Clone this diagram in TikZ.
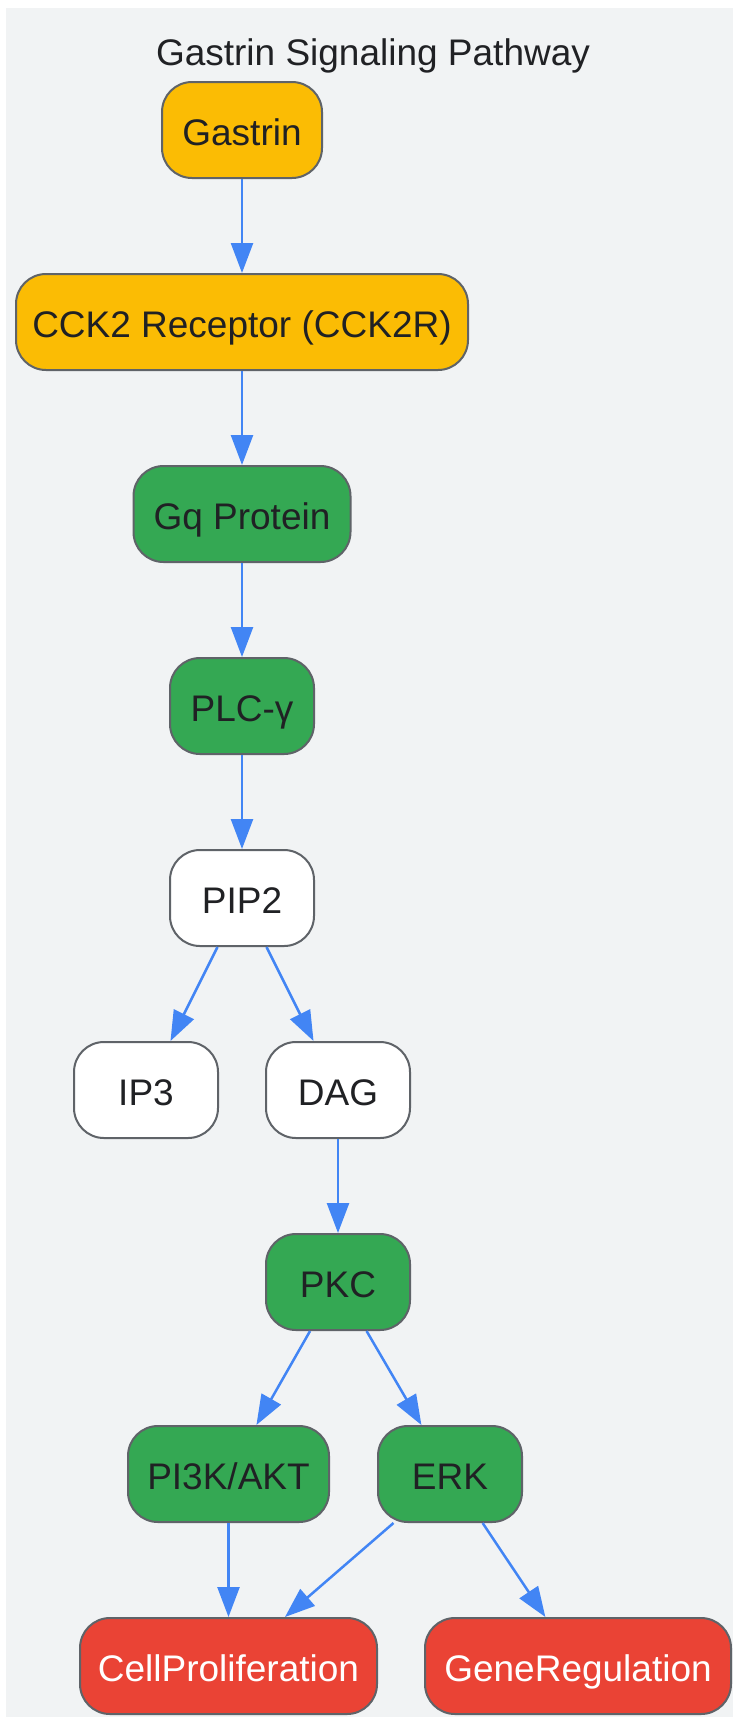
\documentclass[tikz,border=0pt]{standalone}
\usepackage{fontspec}
\setmainfont{Liberation Sans}
\usetikzlibrary{arrows.meta}
\definecolor{bgc}{HTML}{F1F3F4}
\definecolor{ylw}{HTML}{FBBC04}
\definecolor{grn}{HTML}{34A853}
\definecolor{rdc}{HTML}{EA4335}
\definecolor{bord}{HTML}{5F6368}
\definecolor{txt}{HTML}{202124}
\definecolor{edg}{HTML}{4285F4}
\tikzset{
  box/.style={draw=bord, line width=2pt, rounded corners=30pt, minimum height=96pt,
    inner sep=0pt, text height=30pt, text depth=0pt, text=txt,
    font=\fontsize{37}{44}\selectfont},
  ybox/.style={box, fill=ylw},
  gbox/.style={box, fill=grn},
  wbox/.style={box, fill=white},
  rbox/.style={box, fill=rdc, text=white},
  conn/.style={draw=edg, line width=2.5pt, -{Triangle[length=30pt,width=22pt]}, shorten <=0pt},
}
\begin{document}
\begin{tikzpicture}[x=1pt,y=-1pt]
\useasboundingbox (0,0) rectangle (733,1717);
\fill[bgc] (5.5,7.5) rectangle (733,1717);
\node[anchor=base, text=txt, font=\fontsize{37}{44}\selectfont] (title) at (373,65) {Gastrin Signaling Pathway};
\node[ybox, minimum width=160pt] (gastrin) at (242,130) {Gastrin};
\node[ybox, minimum width=452pt] (cck) at (242,322) {CCK2 Receptor (CCK2R)};
\node[gbox, minimum width=217pt] (gq) at (242,514) {Gq Protein};
\node[gbox, minimum width=144pt] (plc) at (242,706) {PLC-γ};
\node[wbox, minimum width=144pt] (pip) at (242,898) {PIP2};
\node[wbox, minimum width=144pt] (ip3) at (146,1090) {IP3};
\node[wbox, minimum width=144pt] (dag) at (338,1090) {DAG};
\node[gbox, minimum width=144pt] (pkc) at (338,1282) {PKC};
\node[gbox, minimum width=201pt] (pi3k) at (228.5,1474) {PI3K/AKT};
\node[gbox, minimum width=144pt] (erk) at (450,1474) {ERK};
\node[rbox, minimum width=297pt] (cell) at (228.5,1666) {CellProliferation};
\node[rbox, minimum width=306pt] (gene) at (578,1666) {GeneRegulation};
\draw[conn] (gastrin) -- (cck);
\draw[conn] (cck) -- (gq);
\draw[conn] (gq) -- (plc);
\draw[conn] (plc) -- (pip);
\draw[conn] (pip) -- (ip3);
\draw[conn] (pip) -- (dag);
\draw[conn] (dag) -- (pkc);
\draw[conn] (pkc) -- (pi3k);
\draw[conn] (pkc) -- (erk);
\draw[conn] (pi3k) -- (cell);
\draw[conn] (erk) -- (cell);
\draw[conn] (erk) -- (gene);
\end{tikzpicture}
\end{document}
